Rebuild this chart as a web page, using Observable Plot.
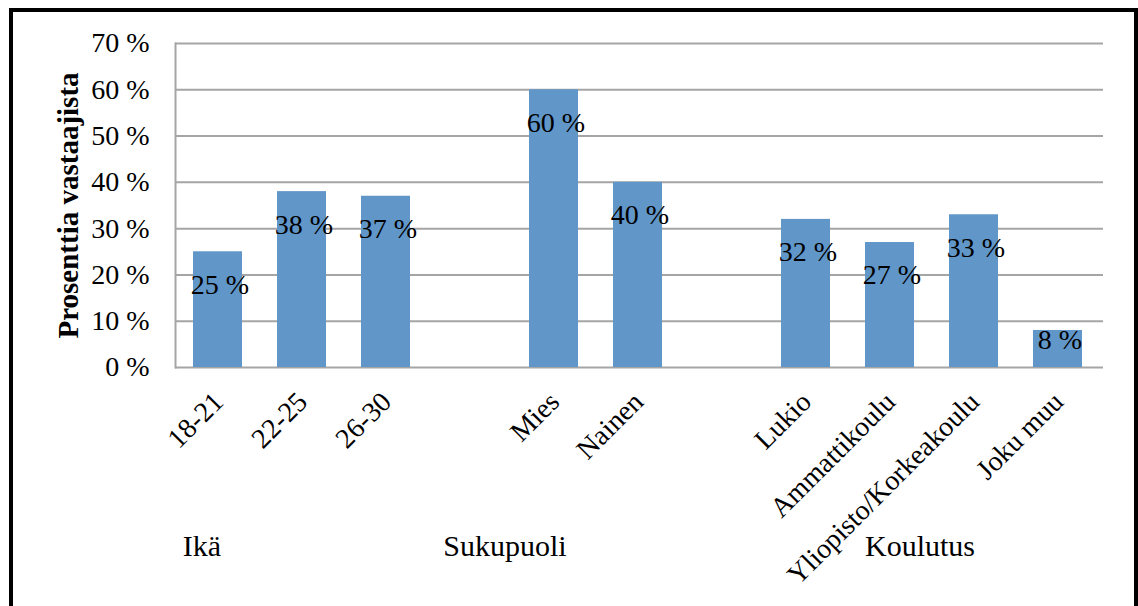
<!DOCTYPE html>
<html lang="fi">
<head>
<meta charset="utf-8">
<script src="https://cdn.jsdelivr.net/npm/d3@7"></script>
<script src="https://cdn.jsdelivr.net/npm/@observablehq/plot@0.6"></script>
<style>
  html, body { margin: 0; padding: 0; background: #fff; overflow: hidden; }
  #wrap { position: relative; width: 1138px; height: 606px; }
  #border {
    position: absolute; left: 9px; top: 8px; width: 1121px; height: 620px;
    border: 4px solid #000; border-bottom: none; box-sizing: content-box;
  }
  #chart { position: absolute; left: 0; top: 0; }
</style>
</head>
<body>
<div id="wrap">
  <div id="border"></div>
  <div id="chart"></div>
</div>
<script>
// Vastaajien taustatiedot: ikä, sukupuoli ja koulutus
const groupNames = ["Ikä", "Sukupuoli", "Koulutus"];
const categories = ["18-21", "22-25", "26-30", "Mies", "Nainen", "Lukio", "Ammattikoulu", "Yliopisto/Korkeakoulu", "Joku muu"];
const categoryGroups = ["Ikä", "Ikä", "Ikä", "Sukupuoli", "Sukupuoli", "Koulutus", "Koulutus", "Koulutus", "Koulutus"];
const values = [25, 38, 37, 60, 40, 32, 27, 33, 8];
const yTicks = [0, 10, 20, 30, 40, 50, 60, 70];
const yTitle = "Prosenttia vastaajista";

const data = categories.map((c, i) => ({category: c, group: categoryGroups[i], value: values[i]}));

// x domain: one empty slot between groups
const domain = [];
groupNames.forEach((g, i) => {
  if (i > 0) domain.push(`gap-${i}`);
  data.filter(d => d.group === g).forEach(d => domain.push(d.category));
});

const barColor = "#6196c9";
const gridColor = "#a5a5a5";
const font = "'Liberation Serif', 'Times New Roman', serif";

const groupLabel = (name, anchor, dx) =>
  Plot.text([name], {
    x: () => anchor, text: d => d, frameAnchor: "bottom",
    dx, dy: 188, lineAnchor: "bottom", fontSize: 30, fill: "#000"
  });

const chart = Plot.plot({
  width: 1138,
  height: 606,
  marginLeft: 175,
  marginRight: 35,
  marginTop: 43,
  marginBottom: 239,
  style: {fontFamily: font, background: "transparent", color: "#000", overflow: "visible"},
  x: {domain, paddingInner: 0.42, paddingOuter: 0.21, axis: null},
  y: {domain: [0, 70], axis: null},
  marks: [
    Plot.ruleY(yTicks, {stroke: gridColor, strokeWidth: 2}),
    Plot.frame({anchor: "left", stroke: gridColor, strokeWidth: 2}),
    Plot.axisY(yTicks, {
      tickSize: 0, tickPadding: 26, fontSize: 28, label: null,
      tickFormat: d => `${d} %`, fill: "#000"
    }),
    Plot.barY(data, {x: "category", y: "value", fill: barColor, dx: -2}),
    Plot.text(data.filter(d => d.value >= 15), {
      x: "category", y: "value", text: d => `${d.value} %`,
      dy: 33, lineAnchor: "middle", fontSize: 28, fill: "#000"
    }),
    Plot.text(data.filter(d => d.value < 15), {
      x: "category", y: "value", text: d => `${d.value} %`,
      dy: 10, lineAnchor: "middle", fontSize: 28, fill: "#000"
    }),
    Plot.text(data, {
      x: "category", text: "category", frameAnchor: "bottom",
      rotate: -45, textAnchor: "end", lineAnchor: "bottom",
      dx: 5, dy: 36, fontSize: 28, fill: "#000"
    }),
    Plot.text([yTitle], {
      text: d => d, frameAnchor: "left", rotate: -90, textAnchor: "middle",
      lineAnchor: "bottom", dx: -98, fontSize: 29, fontWeight: "bold", fill: "#000"
    }),
    groupLabel("Ikä", "18-21", -18),
    groupLabel("Sukupuoli", "Mies", -51),
    groupLabel("Koulutus", "Ammattikoulu", 28)
  ]
});

document.getElementById("chart").append(chart);
</script>
</body>
</html>
